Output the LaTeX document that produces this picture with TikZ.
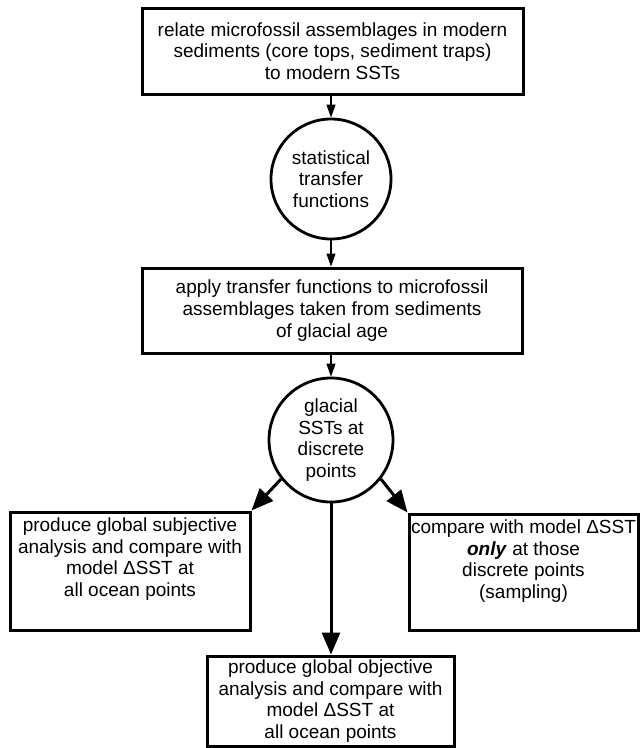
\documentclass[tikz,border=0pt]{standalone}
\usepackage{fontspec}
\setmainfont{Liberation Sans}
\usetikzlibrary{arrows.meta}
\newcommand\dgfont{\fontsize{19}{21.7}\selectfont}
\begin{document}
\begin{tikzpicture}[x=1pt,y=-1pt,
  box/.style={draw, line width=3pt, rectangle, inner sep=0pt, align=center, font=\dgfont},
  txt/.style={inner sep=0pt, align=center, font=\dgfont, anchor=north},
  rnd/.style={draw, line width=2.8pt, circle, inner sep=0pt, align=center, font=\dgfont},
  thinarrow/.style={line width=1.1pt, -{Triangle[length=13pt,width=9pt]}},
  bigarrow/.style={line width=3pt, -{Triangle[length=22pt,width=18pt]}}]
\useasboundingbox (0,0) rectangle (642,748);
\node[box, minimum width=381, minimum height=86] (top) at (332.5,51)
  {relate microfossil assemblages in modern\\sediments (core tops, sediment traps)\\to modern SSTs};
\node[rnd, minimum size=120] (c1) at (331,179) {statistical\\transfer\\functions};
\node[box, minimum width=380, minimum height=85] (mid) at (332,310.5)
  {apply transfer functions to microfossil\\assemblages taken from sediments\\of glacial age};
\node[rnd, minimum size=124] (c2) at (331,440) {glacial\\SSTs at\\discrete\\points};
\node[box, minimum width=240, minimum height=118] (lb) at (130,571) {};
\node[txt] (lbt) at ([yshift=-7pt]lb.north)
  {produce global subjective\\analysis and compare with\\model ΔSST at\\all ocean points};
\node[box, minimum width=229, minimum height=116] (rb) at (523.5,572) {};
\node[txt] (rbt) at ([yshift=-7pt]rb.north)
  {compare with model ΔSST\\\textbf{\textit{only}} at those\\discrete points\\(sampling)};
\node[box, minimum width=247, minimum height=90] (bb) at (330.5,701)
  {produce global objective\\analysis and compare with\\model ΔSST at\\all ocean points};
\draw[thinarrow] (top.south -| c1) -- (c1.north);
\draw[thinarrow] (c1.south) -- (mid.north -| c1);
\draw[thinarrow] (mid.south -| c2) -- (c2.north);
\draw[bigarrow] (c2.-142) -- (lb.north east);
\draw[bigarrow] (c2.-38) -- (rb.north west);
\draw[bigarrow] (c2.south) -- (bb.north -| c2);
\end{tikzpicture}
\end{document}
